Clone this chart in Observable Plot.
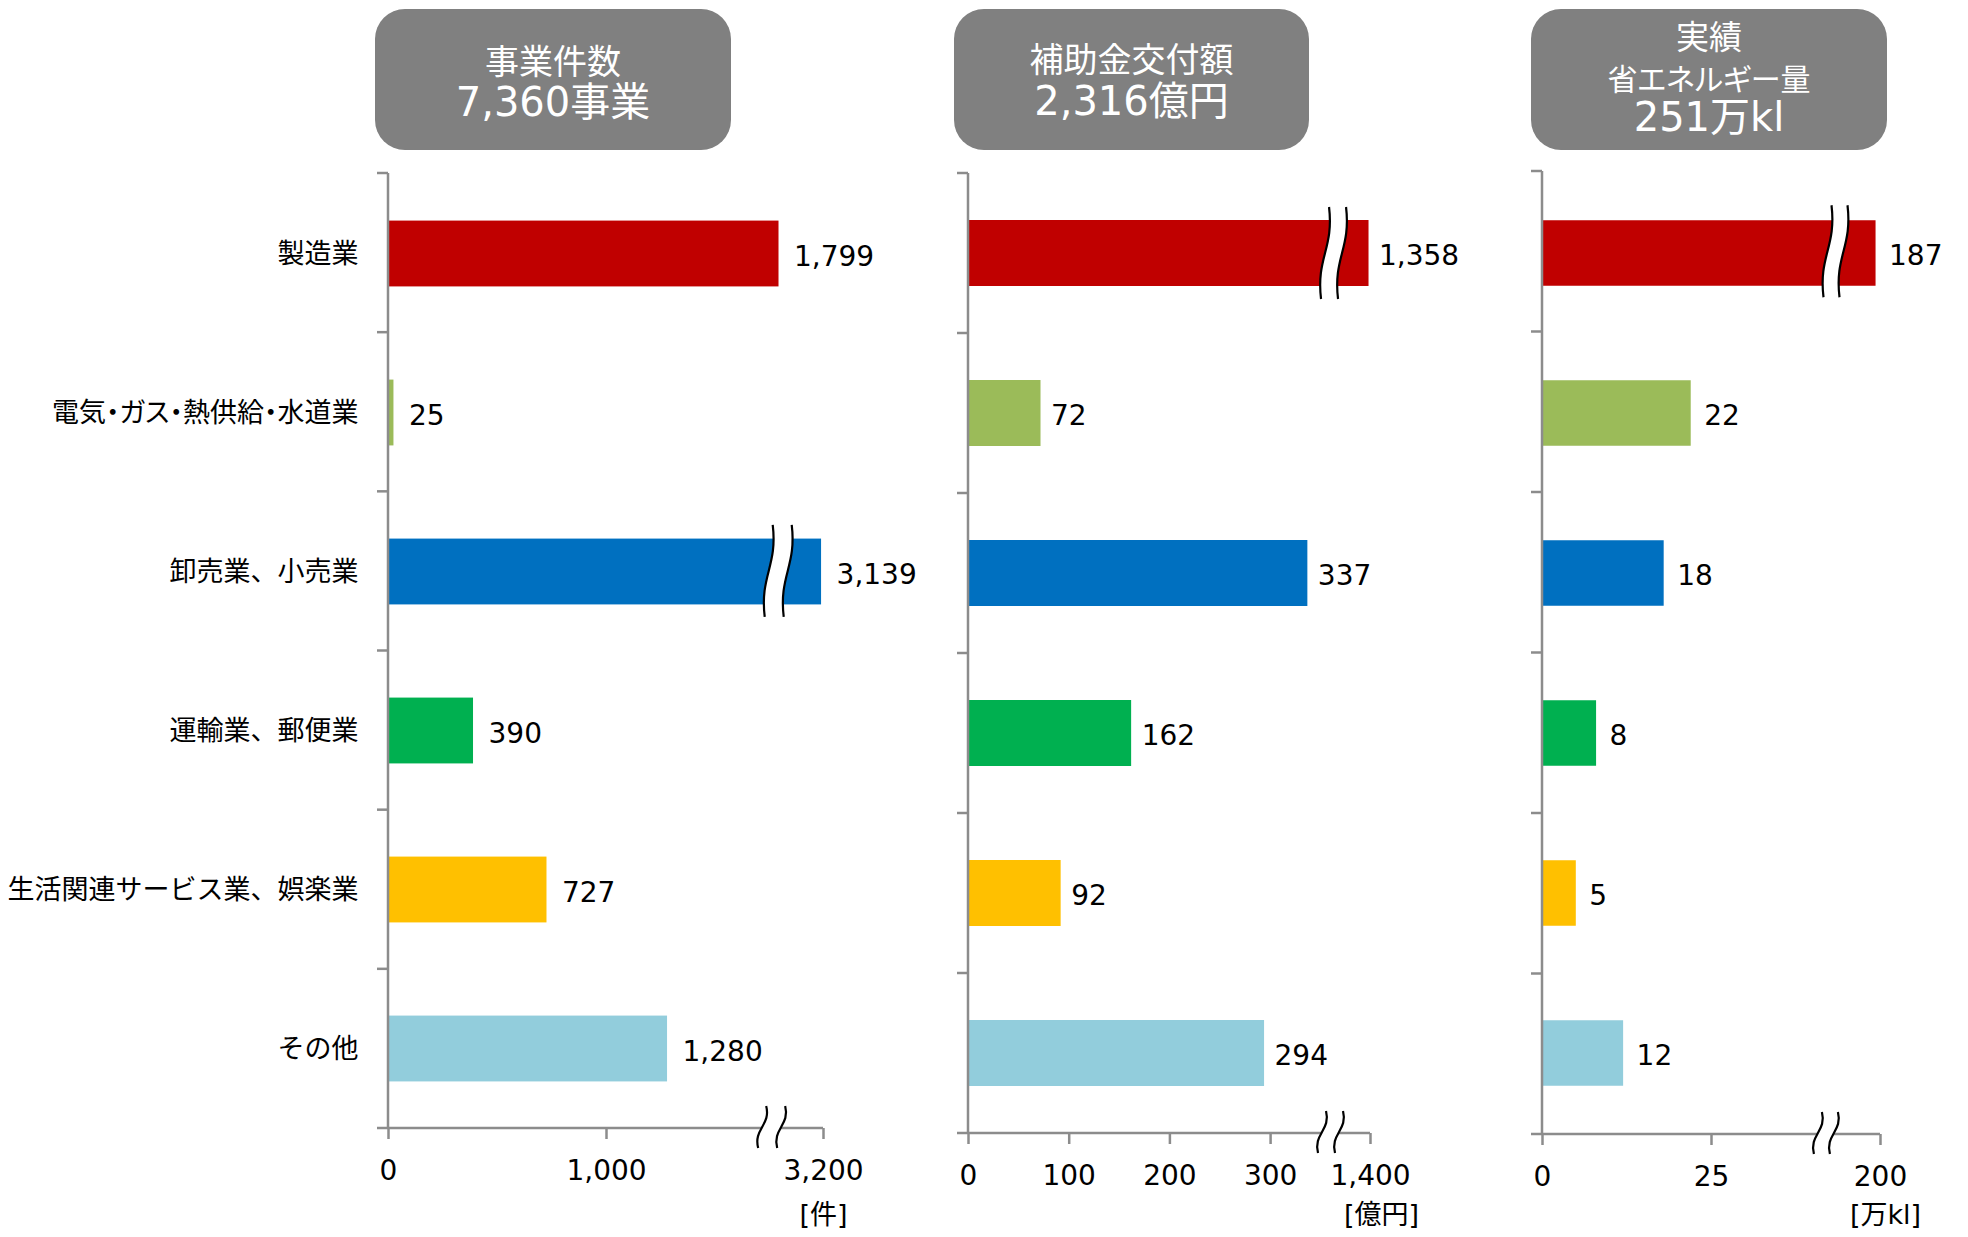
<!DOCTYPE html>
<html><head><meta charset="utf-8">
<script src="https://cdn.jsdelivr.net/npm/d3@7"></script>
<script src="https://cdn.jsdelivr.net/npm/@observablehq/plot@0.6"></script>
<style>
body{margin:0;background:#fff;}
#root{position:relative;width:1968px;height:1237px;overflow:hidden;background:#fff;font-family:"DejaVu Sans","Noto Sans CJK JP",sans-serif;}
.box{position:absolute;top:9px;height:141px;background:#808080;border-radius:30px;color:#fff;}
.line{position:absolute;left:0;right:0;text-align:center;white-space:nowrap;}
#root svg{position:absolute;left:0;top:0;}
</style></head>
<body><div id="root"></div>
<script>
// ---- data ----
const categories = ["製造業","電気・ガス・熱供給・水道業","卸売業、小売業","運輸業、郵便業","生活関連サービス業、娯楽業","その他"];
const barColors = ["#C00000","#9BBB59","#0070C0","#00B050","#FFC000","#92CDDC"];
const projectCounts = [1799, 25, 3139, 390, 727, 1280];
const subsidyAmounts = [1358, 72, 337, 162, 92, 294];
const energySavings = [187, 22, 18, 8, 5, 12];
const projectTicks = [0, 1000, 3200];
const subsidyTicks = [0, 100, 200, 300, 1400];
const energyTicks = [0, 25, 200];
const projectTitle = ["事業件数", "7,360事業"];
const subsidyTitle = ["補助金交付額", "2,316億円"];
const energyTitle = ["実績", "省エネルギー量", "251万kl"];
const units = ["[件]", "[億円]", "[万kl]"];

// ---- layout ----
const W = 1968, H = 1237;
const FONT = '"DejaVu Sans","Noto Sans CJK JP",sans-serif';
const axisColor = "#8c8c8c";
const fmt = d3.format(",");

const panels = [
  {values: projectCounts, ticks: projectTicks, unit: units[0], title: projectTitle,
   x0: 388, ppu: 0.218, pivot: 1790, end: 3200, endPx: 823, top: 173, bottom: 1128,
   barBreak: 1790, axisBreak: 1760, gap: 19, labelDx: 15, unitDx: 0, showCats: true,
   box: {left: 375, width: 356}, lines: [{cy: 62, size: 34}, {cy: 102, size: 40}]},
  {values: subsidyAmounts, ticks: subsidyTicks, unit: units[1], title: subsidyTitle,
   x0: 968, ppu: 1.007, pivot: 363, end: 1400, endPx: 1370, top: 173, bottom: 1133,
   barBreak: 363, axisBreak: 360, gap: 17, labelDx: 10, unitDx: 11, showCats: false,
   box: {left: 954, width: 355}, lines: [{cy: 60, size: 34}, {cy: 101, size: 40}]},
  {values: energySavings, ticks: energyTicks, unit: units[2], title: energyTitle,
   x0: 1542, ppu: 6.76, pivot: 42, end: 200, endPx: 1880, top: 171, bottom: 1134,
   barBreak: 70, axisBreak: 42, gap: 16, labelDx: 13, unitDx: 5, showCats: false,
   box: {left: 1531, width: 356}, lines: [{cy: 37, size: 33}, {cy: 80, size: 30, palt: true}, {cy: 117, size: 40}]}
];

function breakMark(value, y1, y2, gap) {
  return (index, scales) => {
    const c = scales.x(value);
    const h = y2 - y1;
    const pts = (cx) => ({
      top: [cx + 4, y1], c1: [cx + 9, y1 + 0.45 * h], c2: [cx - 9, y1 + 0.55 * h], bot: [cx - 4, y2]
    });
    const L = pts(c - gap / 2), R = pts(c + gap / 2);
    const p = (a) => a.join(",");
    const g = d3.create("svg:g");
    g.append("path").attr("fill", "#fff").attr("stroke", "none")
      .attr("d", `M${p(L.top)}C${p(L.c1)} ${p(L.c2)} ${p(L.bot)}L${p(R.bot)}C${p(R.c2)} ${p(R.c1)} ${p(R.top)}Z`);
    for (const S of [L, R]) {
      g.append("path").attr("fill", "none").attr("stroke", "#000").attr("stroke-width", 2.2)
        .attr("d", `M${p(S.top)}C${p(S.c1)} ${p(S.c2)} ${p(S.bot)}`);
    }
    return g.node();
  };
}

function axisFrame(pn, bw) {
  return (index, scales) => {
    const x0 = scales.x(0), xe = scales.x(pn.end);
    const g = d3.create("svg:g").attr("stroke", axisColor).attr("stroke-width", 2.5).attr("fill", "none");
    g.append("line").attr("x1", x0).attr("x2", x0).attr("y1", pn.top).attr("y2", pn.bottom);
    g.append("line").attr("x1", x0 - 11).attr("x2", xe).attr("y1", pn.bottom).attr("y2", pn.bottom);
    for (let i = 0; i < categories.length; i++) {
      const y = pn.top + i * bw;
      g.append("line").attr("x1", x0 - 11).attr("x2", x0).attr("y1", y).attr("y2", y);
    }
    return g.node();
  };
}

const root = document.getElementById("root");

for (const pn of panels) {
  const data = categories.map((c, i) => ({cat: c, value: pn.values[i]}));
  const bw = (pn.bottom - pn.top) / categories.length;
  const barH = 66;
  const inset = (bw - barH) / 2;
  const pivotPx = pn.x0 + pn.pivot * pn.ppu;
  // the broken bar is the largest one
  const breakIndex = d3.maxIndex(pn.values);
  const barTop = pn.top + breakIndex * bw + inset;
  const barBot = barTop + barH;

  const marks = [
    Plot.barX(data, {x: "value", y: "cat", fill: "cat", insetTop: inset, insetBottom: inset}),
    Plot.text(data, {x: "value", y: "cat", text: d => fmt(d.value), textAnchor: "start",
      dx: pn.labelDx, dy: 3, fontSize: 28, fill: "#000"}),
    breakMark(pn.barBreak, barTop - 13, barBot + 13, pn.gap),
    axisFrame(pn, bw),
    Plot.axisX({ticks: pn.ticks, tickFormat: fmt, tickSize: 11, tickPadding: 21, fontSize: 28,
      stroke: axisColor, strokeWidth: 2.5, fill: "#000", label: null}),
    breakMark(pn.axisBreak, pn.bottom - 22, pn.bottom + 20, pn.gap),
    Plot.text([{v: pn.end, u: pn.unit}], {x: "v", text: "u", frameAnchor: "bottom", lineAnchor: "middle",
      dy: 1215 - pn.bottom, dx: pn.unitDx, fontSize: 27, fill: "#000"})
  ];
  if (pn.showCats) {
    marks.push(Plot.axisY({tickSize: 0, tickPadding: 30, fontSize: 27, fill: "#000", label: null}));
  }

  const svg = Plot.plot({
    width: W, height: H,
    marginTop: pn.top, marginBottom: H - pn.bottom, marginLeft: pn.x0, marginRight: W - pn.endPx,
    x: {type: "linear", domain: [0, pn.pivot, pn.end], range: [pn.x0, pivotPx, pn.endPx], label: null},
    y: {type: "band", domain: categories, padding: 0, label: null, ...(pn.showCats ? {} : {axis: null})},
    color: {domain: categories, range: barColors},
    style: {fontFamily: FONT, fontSize: "27px", color: "#000", background: "transparent", overflow: "visible"},
    marks
  });
  svg.style.position = "absolute";
  svg.style.left = "0px";
  svg.style.top = "0px";
  svg.style.maxWidth = "none";
  // proportional punctuation for labels with middle dots
  d3.select(svg).selectAll("text").filter(function() { return this.textContent.includes("・"); })
    .style("font-feature-settings", '"palt"');
  root.appendChild(svg);

  // title box
  const box = document.createElement("div");
  box.className = "box";
  box.style.left = pn.box.left + "px";
  box.style.width = pn.box.width + "px";
  pn.title.forEach((t, i) => {
    const ln = pn.lines[i];
    const d = document.createElement("div");
    d.className = "line";
    const lh = ln.size;
    d.style.fontSize = ln.size + "px";
    d.style.lineHeight = lh + "px";
    d.style.top = (ln.cy - 9 - lh / 2) + "px";
    if (ln.palt) d.style.fontFeatureSettings = '"palt"';
    d.textContent = t;
    box.appendChild(d);
  });
  root.appendChild(box);
}
</script>
</body></html>
